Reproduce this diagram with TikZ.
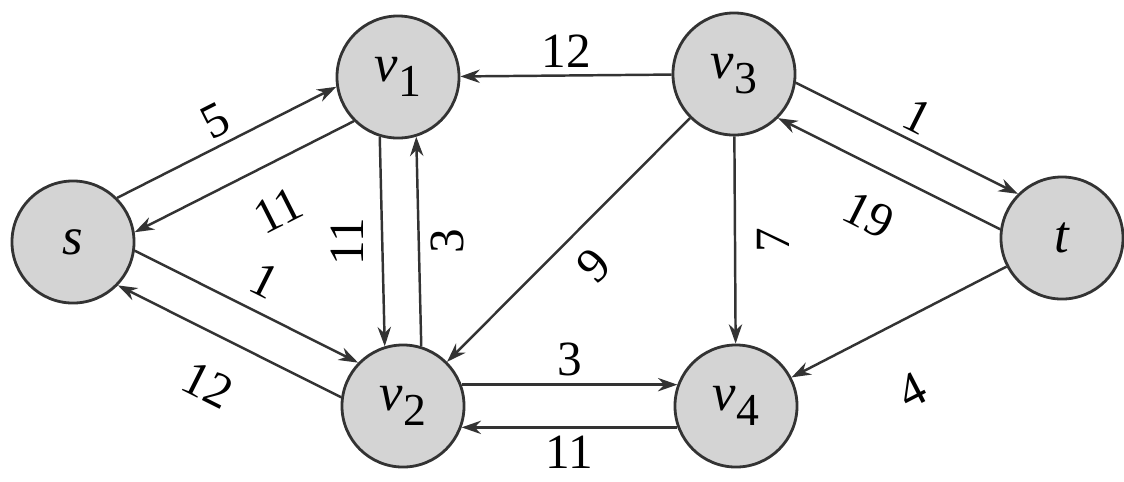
\documentclass[tikz,border=0pt]{standalone}
\usepackage{fontspec}
\setmainfont{Liberation Serif}
\newfontfamily\timesfont{Liberation Serif}
\usepackage{graphicx}
\usetikzlibrary{arrows.meta}

\tikzset{
  dinh/.style={circle, draw=black!80, line width=0.8pt, fill=black!17,
    minimum size=1.22cm, inner sep=0pt, font=\timesfont\fontsize{15}{17}\selectfont\itshape},
  cung/.style={line width=0.7pt, draw=black!80,
    -{Stealth[length=5.5pt, width=3.8pt]}},
  nhan/.style={font=\timesfont\fontsize{14}{16}\selectfont, inner sep=2pt},
}
\newcommand{\vsub}[1]{v\raisebox{-0.6ex}{\upshape\fontsize{13}{13}\selectfont #1}}

\begin{document}
\begin{tikzpicture}[x=0.01cm, y=-0.01cm]
    \useasboundingbox (0,0) rectangle (1124,481);

    % 1. Các đỉnh của mạng
    \node[dinh] (s)  at (73,242)  {s};
    \node[dinh] (v1) at (398,77)  {\vsub{1}};
    \node[dinh] (v2) at (403,406) {\vsub{2}};
    \node[dinh] (v3) at (734,74)  {\vsub{3}};
    \node[dinh] (v4) at (736,406) {\vsub{4}};
    \node[dinh] (t)  at (1062,238) {t};

    % 2. Các cặp cung ngược chiều giữa s, v1, v2
    \draw[cung] (s.45) -- (v1.189) node[nhan, midway, sloped, above] {5};
    \draw[cung] (v1.225) -- (s.9) node[nhan, pos=0.44, sloped, below=6pt] {11};
    \draw[cung] (s.-8) -- (v2.136) node[nhan, pos=0.52, sloped, above=2pt] {1};
    \draw[cung] (v2.172) -- (s.-44) node[nhan, pos=0.5, sloped, below=7pt] {12};

    % 3. Cung đứng giữa v1 và v2
    \draw[cung] (v1.-107) -- (v2.107) node[nhan, midway, left=3pt] {\rotatebox{90}{11}};
    \draw[cung] (v2.73) -- (v1.287) node[nhan, midway, right=1pt] {\rotatebox{90}{3}};

    % 4. Cung ngang giữa v2 và v4
    \draw[cung] (v2.20) -- (v4.160) node[nhan, midway, above] {3};
    \draw[cung] (v4.200) -- (v2.-20) node[nhan, midway, below] {11};

    % 5. Các cung đi ra từ v3
    \draw[cung] (v3) -- (v1) node[nhan, midway, above] {12};
    \draw[cung] (v3) -- (v2) node[nhan, midway, sloped, below=3pt] {9};
    \draw[cung] (v3) -- (v4) node[nhan, midway, right=4pt] {\rotatebox{90}{7}};

    % 6. Các cung nối với t
    \draw[cung] (v3.-8) -- (t.135) node[nhan, midway, sloped, above] {1};
    \draw[cung] (t.172) -- (v3.-45) node[nhan, pos=0.5, sloped, below=6pt] {19};
    \draw[cung] (t) -- (v4) node[nhan, pos=0.58, sloped, below=12pt] {4};
\end{tikzpicture}
\end{document}
